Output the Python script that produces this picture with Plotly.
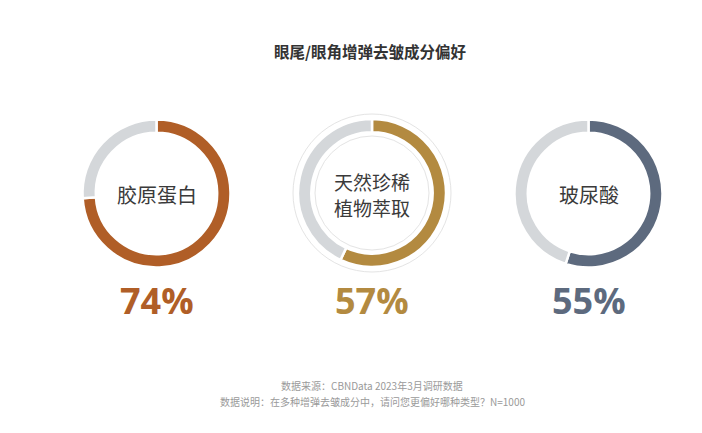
import plotly.graph_objects as go

categories = [["胶原蛋白"], ["天然珍稀", "植物萃取"], ["玻尿酸"]]
values = [74, 57, 55]
colors = ["#B05E27", "#B38A40", "#5D6A7E"]
rest_color = "#D4D7DA"

OFF = 8                     # page body margin around the plot div
W, H = 702 - 2 * OFF, 433 - 2 * OFF
centers = [(156.5, 193.5), (372, 193), (588.5, 193.5)]   # page pixels
R = 74
HOLE = 0.82
LINE_GAP = 26

def px(x): return (x - OFF) / W
def py(y): return (H - (y - OFF)) / H

def dom(cx, cy, r):
    return dict(x=[px(cx - r), px(cx + r)], y=[py(cy + r), py(cy - r)])

def note(x, y, text, size, color, family="Noto Sans CJK SC"):
    fig.add_annotation(x=px(x), y=py(y), xref="paper", yref="paper",
                       xanchor="center", yanchor="middle", text=text, showarrow=False,
                       borderpad=0, font=dict(family=family, size=size, color=color))

fig = go.Figure()

cx, cy = centers[1]
fig.add_trace(go.Pie(values=[1], labels=["bg"], hole=57 / 79, domain=dom(cx, cy, 79),
                     marker=dict(colors=["white"], line=dict(color="#E4E4E4", width=1)),
                     textinfo="none", hoverinfo="skip", showlegend=False, sort=False))

for i, (cat, v) in enumerate(zip(categories, values)):
    cx, cy = centers[i]
    fig.add_trace(go.Pie(
        values=[v, 100 - v], labels=["a", "b"], hole=HOLE, domain=dom(cx, cy, R),
        sort=False, direction="clockwise", rotation=0,
        marker=dict(colors=[colors[i], rest_color], line=dict(color="white", width=2.5)),
        textinfo="none", hoverinfo="skip", showlegend=False))
    n = len(cat)
    size = 20 if n == 1 else 19
    for k, line in enumerate(cat):
        note(cx, cy + 1 + (k - (n - 1) / 2) * LINE_GAP, line, size, "#3A3A3A")
    note(cx, 300, f"<b>{v}%</b>", 36, colors[i], "Open Sans")

note(370, 51, "<b>眼尾/眼角增弹去皱成分偏好</b>", 15.5, "#333333")
note(372, 385, "数据来源：CBNData 2023年3月调研数据", 10, "#9A9A9A")
note(372, 401, "数据说明：在多种增弹去皱成分中，请问您更偏好哪种类型？N=1000", 10, "#9A9A9A")

fig.update_layout(width=W, height=H, margin=dict(l=0, r=0, t=0, b=0),
                  paper_bgcolor="white", plot_bgcolor="white", showlegend=False)

fig.write_html("out.html")
